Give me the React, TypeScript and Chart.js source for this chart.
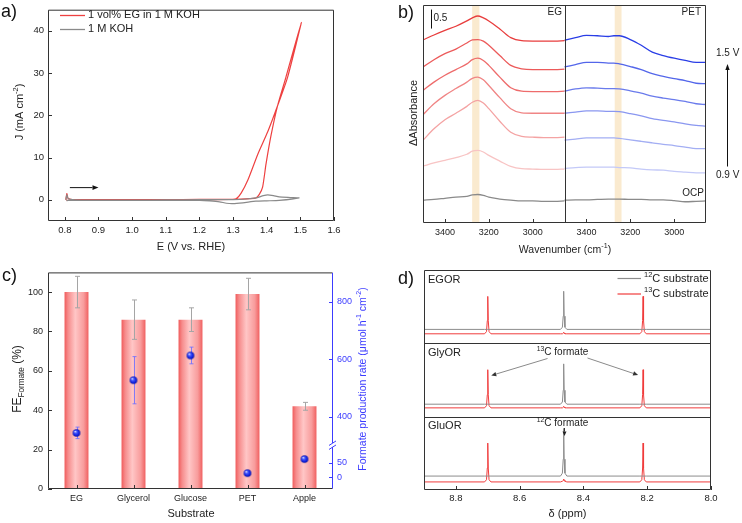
import React, { useEffect, useRef } from "react";
import { Chart, registerables } from "chart.js";

Chart.register(...registerables);

const FONT = "'Liberation Sans', Arial, Helvetica, sans-serif";
const INK = "#222222";
const FRAME = "#333333";
Chart.defaults.font.family = FONT;
Chart.defaults.color = INK;

// ---------------- Panel a : cyclic voltammetry ----------------
const aSeriesNames = ["1 vol% EG in 1 M KOH", "1 M KOH"];
const cvEgPotential = [0.803, 0.806, 0.81, 0.83, 0.9, 1.0, 1.1, 1.2, 1.3, 1.35, 1.368, 1.378, 1.388, 1.398, 1.413, 1.432, 1.457, 1.503, 1.462, 1.432, 1.403, 1.373, 1.344, 1.324, 1.309, 1.29, 1.2, 1.0, 0.9, 0.81, 0.805];
const cvEgCurrent = [0.0, 1.5, 0.35, 0.08, 0.05, 0.05, 0.06, 0.1, 0.15, 0.3, 0.46, 1.3, 3.1, 8.5, 15.3, 22.2, 29.0, 42.0, 29.0, 22.2, 16.1, 10.7, 4.7, 1.6, 0.23, 0.1, 0.05, 0.0, -0.05, -0.1, -0.15];
const cvKohPotential = [0.803, 0.806, 0.81, 0.83, 0.9, 1.0, 1.1, 1.2, 1.3, 1.34, 1.368, 1.39, 1.403, 1.42, 1.437, 1.47, 1.496, 1.437, 1.4, 1.368, 1.329, 1.299, 1.28, 1.26, 1.23, 1.201, 1.1, 1.0, 0.9, 0.81, 0.805];
const cvKohCurrent = [0.0, 1.2, 0.25, 0.0, -0.05, -0.05, 0.0, 0.05, 0.05, 0.2, 0.46, 1.0, 1.2, 1.0, 0.69, 0.55, 0.46, -0.14, -0.22, -0.3, -0.7, -0.9, -0.8, -0.46, -0.25, -0.14, -0.1, -0.1, -0.12, -0.15, -0.2];
const aPotentialTicks = [0.8, 0.9, 1.0, 1.1, 1.2, 1.3, 1.4, 1.5, 1.6];
const aCurrentTicks = [0, 10, 20, 30, 40];

// ---------------- Panel b : in situ IR spectra ----------------
const egWave = [3500, 3450, 3400, 3350, 3300, 3275, 3250, 3225, 3200, 3150, 3100, 3050, 3000, 2950, 2900, 2855];
const egCurve1 = [4.82, 4.95, 5.07, 5.18, 5.32, 5.40, 5.45, 5.40, 5.32, 5.11, 4.88, 4.80, 4.79, 4.79, 4.79, 4.80];
const egCurve2 = [4.11, 4.30, 4.46, 4.58, 4.74, 4.82, 4.83, 4.79, 4.68, 4.41, 4.15, 4.06, 4.04, 4.04, 4.04, 4.05];
const egCurve3 = [3.49, 3.71, 3.89, 4.04, 4.19, 4.30, 4.34, 4.28, 4.15, 3.84, 3.56, 3.47, 3.46, 3.46, 3.46, 3.47];
const egCurve4 = [2.85, 3.14, 3.36, 3.54, 3.71, 3.81, 3.84, 3.77, 3.62, 3.30, 3.01, 2.90, 2.89, 2.89, 2.89, 2.89];
const egCurve5 = [2.18, 2.48, 2.72, 2.89, 3.07, 3.18, 3.23, 3.16, 3.01, 2.68, 2.39, 2.28, 2.26, 2.25, 2.25, 2.26];
const egCurve6 = [1.50, 1.58, 1.65, 1.72, 1.81, 1.89, 1.91, 1.87, 1.78, 1.63, 1.49, 1.43, 1.42, 1.41, 1.41, 1.42];
const egOcp = [0.60, 0.62, 0.65, 0.68, 0.70, 0.74, 0.75, 0.73, 0.68, 0.63, 0.60, 0.58, 0.58, 0.57, 0.57, 0.58];
const petWave = [3500, 3450, 3400, 3350, 3300, 3275, 3250, 3200, 3150, 3100, 3050, 3000, 2950, 2900, 2855];
const petCurve1 = [4.81, 4.88, 4.94, 4.93, 4.91, 4.93, 4.93, 4.83, 4.68, 4.50, 4.41, 4.34, 4.28, 4.23, 4.23];
const petCurve2 = [4.11, 4.17, 4.23, 4.23, 4.21, 4.21, 4.19, 4.12, 4.04, 3.93, 3.86, 3.80, 3.75, 3.68, 3.67];
const petCurve3 = [3.47, 3.53, 3.56, 3.55, 3.54, 3.54, 3.53, 3.48, 3.42, 3.34, 3.29, 3.25, 3.20, 3.14, 3.12];
const petCurve4 = [2.89, 2.92, 2.95, 2.95, 2.94, 2.94, 2.93, 2.88, 2.82, 2.75, 2.70, 2.66, 2.61, 2.57, 2.55];
const petCurve5 = [2.18, 2.21, 2.24, 2.24, 2.24, 2.24, 2.23, 2.19, 2.15, 2.11, 2.07, 2.04, 2.00, 1.96, 1.96];
const petCurve6 = [1.44, 1.46, 1.47, 1.47, 1.47, 1.47, 1.46, 1.45, 1.42, 1.40, 1.39, 1.36, 1.34, 1.32, 1.32];
const petOcp = [0.60, 0.61, 0.61, 0.62, 0.63, 0.63, 0.63, 0.62, 0.62, 0.61, 0.61, 0.59, 0.56, 0.57, 0.58];
const egBand = [3276, 3243];
const petBand = [3271, 3240];
const bWaveStart = 3500;
const bWaveEnd = 2855;
const bTickWaves = [3400, 3200, 3000];
const bPanelNames = ["EG", "PET"];
const bPotentialLabels = ["1.5 V", "0.9 V"];
const bScaleBar = [5.12, 5.62];
const bScaleBarLabel = "0.5";

// ---------------- Panel c : FE and formate rate ----------------
const substrates = ["EG", "Glycerol", "Glucose", "PET", "Apple"];
const feValues = [100, 86, 86, 99, 42];
const feErrors = [8, 10, 6, 8, 2];
const rateValues = [344, 527, 613, 14, 63];
const rateErrors = [20, 82, 29, 3, 3];
const feTicks = [0, 20, 40, 60, 80, 100];
const rateTicks = [0, 50, 400, 600, 800];
const rateBreakLow = 200; // values above are shifted down by the gap
const rateBreakGap = 190;
const rateBreakMark = 112;

// ---------------- Panel d : 1H NMR ----------------
const nmrPanels = ["EGOR", "GlyOR", "GluOR"];
const nmrSeriesNames = ["12C substrate", "13C substrate"];
const nmrPpm = [8.9, 8.71, 8.704, 8.7015, 8.7, 8.6985, 8.696, 8.69, 8.472, 8.466, 8.4635, 8.462, 8.4605, 8.458, 8.452, 8.223, 8.217, 8.2145, 8.213, 8.2115, 8.209, 8.203, 8.0];
const egorC12 = [2.19, 2.19, 2.19, 2.19, 2.19, 2.19, 2.19, 2.19, 2.19, 2.22, 2.37, 2.71, 2.37, 2.22, 2.19, 2.19, 2.19, 2.19, 2.19, 2.19, 2.19, 2.19, 2.19];
const egorC13 = [2.13, 2.13, 2.16, 2.31, 2.64, 2.31, 2.16, 2.13, 2.13, 2.13, 2.14, 2.15, 2.14, 2.13, 2.13, 2.13, 2.16, 2.31, 2.64, 2.31, 2.16, 2.13, 2.13];
const glyorC12 = [1.17, 1.17, 1.17, 1.17, 1.17, 1.17, 1.17, 1.17, 1.17, 1.2, 1.36, 1.72, 1.36, 1.2, 1.17, 1.17, 1.17, 1.17, 1.17, 1.17, 1.17, 1.17, 1.17];
const glyorC13 = [1.12, 1.12, 1.15, 1.3, 1.64, 1.3, 1.15, 1.12, 1.12, 1.12, 1.13, 1.14, 1.13, 1.12, 1.12, 1.12, 1.15, 1.3, 1.64, 1.3, 1.15, 1.12, 1.12];
const gluorC12 = [0.19, 0.19, 0.19, 0.19, 0.19, 0.19, 0.19, 0.19, 0.19, 0.23, 0.42, 0.84, 0.42, 0.23, 0.19, 0.19, 0.19, 0.19, 0.19, 0.19, 0.19, 0.19, 0.19];
const gluorC13 = [0.11, 0.11, 0.14, 0.3, 0.64, 0.3, 0.14, 0.11, 0.11, 0.12, 0.13, 0.15, 0.13, 0.12, 0.11, 0.11, 0.14, 0.3, 0.64, 0.3, 0.14, 0.11, 0.11];
const nmrTicks = [8.8, 8.6, 8.4, 8.2, 8.0];
const nmr13Peaks = [8.7, 8.213];
const nmr12Peak = 8.462;

// ---------------- helpers ----------------
type Seg = { t: string; s?: "sup" | "sub" };
const txt = (t: string): Seg[] => [{ t }];

function richText(ctx: any, segs: Seg[], x: number, y: number, size: number, color: string, align = "center", rot = 0) {
  ctx.save();
  ctx.translate(x, y);
  if (rot) ctx.rotate(rot);
  ctx.textBaseline = "middle";
  ctx.textAlign = "left";
  ctx.fillStyle = color;
  const fontFor = (s?: string) => `${s ? size * 0.68 : size}px ${FONT}`;
  const widths = segs.map((sg) => {
    ctx.font = fontFor(sg.s);
    return ctx.measureText(sg.t).width;
  });
  const total = widths.reduce((p, q) => p + q, 0);
  let cx = align === "center" ? -total / 2 : align === "right" ? -total : 0;
  segs.forEach((sg, i) => {
    ctx.font = fontFor(sg.s);
    const dy = sg.s === "sup" ? -size * 0.33 : sg.s === "sub" ? size * 0.3 : 0;
    ctx.fillText(sg.t, cx, dy);
    cx += widths[i];
  });
  ctx.restore();
}

function seg(ctx: any, x1: number, y1: number, x2: number, y2: number, color: string, w = 1) {
  ctx.save();
  ctx.strokeStyle = color;
  ctx.lineWidth = w;
  ctx.beginPath();
  ctx.moveTo(x1, y1);
  ctx.lineTo(x2, y2);
  ctx.stroke();
  ctx.restore();
}

function arrow(ctx: any, x1: number, y1: number, x2: number, y2: number, lineColor: string, headColor: string, head = 5, half = 2.3) {
  ctx.save();
  const ang = Math.atan2(y2 - y1, x2 - x1);
  const bx = x2 - head * Math.cos(ang);
  const by = y2 - head * Math.sin(ang);
  ctx.strokeStyle = lineColor;
  ctx.lineWidth = 1;
  ctx.beginPath();
  ctx.moveTo(x1, y1);
  ctx.lineTo(bx, by);
  ctx.stroke();
  ctx.fillStyle = headColor;
  ctx.beginPath();
  ctx.moveTo(x2, y2);
  ctx.lineTo(bx + half * Math.sin(ang), by - half * Math.cos(ang));
  ctx.lineTo(bx - half * Math.sin(ang), by + half * Math.cos(ang));
  ctx.closePath();
  ctx.fill();
  ctx.restore();
}

function drawFrame(ctx: any, a: any, color = FRAME, rightColor?: string) {
  const l = a.left + 0.5, r = a.right - 0.5, t = a.top + 0.5, b = a.bottom - 0.5;
  seg(ctx, l, t, r, t, color);
  seg(ctx, l, b, r, b, color);
  seg(ctx, l, t, l, b, color);
  seg(ctx, r, t, r, b, rightColor || color);
}

function innerTicks(ctx: any, scale: any, side: string, a: any, len = 4, color = FRAME) {
  ctx.save();
  ctx.strokeStyle = color;
  ctx.lineWidth = 1;
  ctx.beginPath();
  scale.ticks.forEach((_: any, i: number) => {
    const p = Math.round(scale.getPixelForTick(i)) + 0.5;
    if (side === "bottom") {
      ctx.moveTo(p, a.bottom);
      ctx.lineTo(p, a.bottom - len);
    } else if (side === "left") {
      ctx.moveTo(a.left, p);
      ctx.lineTo(a.left + len, p);
    } else {
      ctx.moveTo(a.right, p);
      ctx.lineTo(a.right - len, p);
    }
  });
  ctx.stroke();
  ctx.restore();
}

const noGrid = { display: false, drawTicks: false };
const common = (padding: any) => ({
  animation: false,
  responsive: false,
  maintainAspectRatio: false,
  events: [],
  layout: { padding, autoPadding: false },
  plugins: { legend: { display: false }, tooltip: { enabled: false }, title: { display: false } },
});
const tickFont = (size: number) => ({ size, family: FONT });

// ---------------- Panel a ----------------
const RED_A = "#ee4040";
const GRAY_A = "#8a8a8a";
function buildA(canvas: HTMLCanvasElement) {
  const deco = {
    id: "decoA",
    afterDraw(chart: any) {
      const ctx = chart.ctx, a = chart.chartArea, xs = chart.scales.x, ys = chart.scales.y;
      drawFrame(ctx, a);
      innerTicks(ctx, xs, "bottom", a);
      innerTicks(ctx, ys, "left", a);
      richText(ctx, txt("a)"), 1, 12, 18, "#111", "left");
      seg(ctx, 60, 15.5, 85, 15.5, RED_A, 1.3);
      richText(ctx, txt(aSeriesNames[0]), 88, 15, 11, INK, "left");
      seg(ctx, 60, 29.5, 85, 29.5, GRAY_A, 1.3);
      richText(ctx, txt(aSeriesNames[1]), 88, 29, 11, INK, "left");
      const ya = ys.getPixelForValue(2.9);
      arrow(ctx, xs.getPixelForValue(0.815), ya, xs.getPixelForValue(0.9), ya, "#111", "#111", 6, 2.3);
      richText(ctx, [{ t: "J (mA cm" }, { t: "-2", s: "sup" }, { t: ")" }], 20, 112, 11, INK, "center", -Math.PI / 2);
      richText(ctx, txt("E (V vs. RHE)"), 191, 247, 11, INK);
    },
  };
  return new Chart(canvas as any, {
    type: "line",
    data: {
      datasets: [
        {
          label: aSeriesNames[1],
          data: cvKohPotential.map((e, i) => ({ x: e, y: cvKohCurrent[i] })),
          borderColor: GRAY_A,
          borderWidth: 1.2,
          pointRadius: 0,
          tension: 0.2,
        },
        {
          label: aSeriesNames[0],
          data: cvEgPotential.map((e, i) => ({ x: e, y: cvEgCurrent[i] })),
          borderColor: RED_A,
          borderWidth: 1.2,
          pointRadius: 0,
          tension: 0.2,
        },
      ],
    },
    options: {
      ...common({ left: 8, right: 37, top: 2, bottom: 1 }),
      scales: {
        x: {
          type: "linear", min: 0.75, max: 1.6, grid: noGrid, border: { display: false },
          ticks: { font: tickFont(9.5), color: INK, padding: 4, maxRotation: 0, autoSkip: false, callback: (v: any) => Number(v).toFixed(1) },
          afterBuildTicks: (s: any) => { s.ticks = aPotentialTicks.map((v) => ({ value: v })); },
          afterFit: (s: any) => { s.height = 40; },
        },
        y: {
          type: "linear", min: -5, max: 45, grid: noGrid, border: { display: false },
          ticks: { font: tickFont(9.5), color: INK, padding: 4, autoSkip: false, callback: (v: any) => String(v) },
          afterBuildTicks: (s: any) => { s.ticks = aCurrentTicks.map((v) => ({ value: v })); },
          afterFit: (s: any) => { s.width = 40; },
        },
      },
    } as any,
    plugins: [deco],
  });
}

// ---------------- Panel b ----------------
const bHalf = bWaveStart - bWaveEnd;
const egX = (w: number) => bWaveStart - w;
const petX = (w: number) => bHalf + bWaveStart - w;
const egColors = ["#e83c3c", "#ec5a5a", "#ee6c6c", "#f08585", "#f4a3a3", "#f8c4c4"];
const petColors = ["#2a3ee6", "#5366ea", "#6a7bec", "#8a97f0", "#a3aef3", "#c3c9f8"];
const ocpColor = "#8a8a8a";
function buildB(canvas: HTMLCanvasElement) {
  const egCurves = [egCurve1, egCurve2, egCurve3, egCurve4, egCurve5, egCurve6];
  const petCurves = [petCurve1, petCurve2, petCurve3, petCurve4, petCurve5, petCurve6];
  const mk = (label: string, xs: number[], ys: number[], map: (w: number) => number, color: string) => ({
    label,
    data: xs.map((w, i) => ({ x: map(w), y: ys[i] })),
    borderColor: color,
    borderWidth: 1.3,
    pointRadius: 0,
    cubicInterpolationMode: "monotone",
  });
  const datasets: any[] = [];
  egCurves.forEach((c, i) => datasets.push(mk("EG " + (i + 1), egWave, c, egX, egColors[i])));
  datasets.push(mk("EG OCP", egWave, egOcp, egX, ocpColor));
  petCurves.forEach((c, i) => datasets.push(mk("PET " + (i + 1), petWave, c, petX, petColors[i])));
  datasets.push(mk("PET OCP", petWave, petOcp, petX, ocpColor));
  const deco = {
    id: "decoB",
    beforeDatasetsDraw(chart: any) {
      const ctx = chart.ctx, a = chart.chartArea, xs = chart.scales.x;
      ctx.save();
      ctx.fillStyle = "rgba(246, 214, 160, 0.5)";
      const x1 = xs.getPixelForValue(egX(egBand[0])), x2 = xs.getPixelForValue(egX(egBand[1]));
      ctx.fillRect(x1, a.top, x2 - x1, a.bottom - a.top);
      const x3 = xs.getPixelForValue(petX(petBand[0])), x4 = xs.getPixelForValue(petX(petBand[1]));
      ctx.fillRect(x3, a.top, x4 - x3, a.bottom - a.top);
      ctx.restore();
    },
    afterDraw(chart: any) {
      const ctx = chart.ctx, a = chart.chartArea, xs = chart.scales.x, ys = chart.scales.y;
      drawFrame(ctx, a);
      const xd = Math.round(xs.getPixelForValue(bHalf)) + 0.5;
      seg(ctx, xd, a.top, xd, a.bottom, FRAME);
      innerTicks(ctx, xs, "bottom", a);
      richText(ctx, txt("b)"), 27, 13, 18, "#111", "left");
      const sx = a.left + 8.5;
      seg(ctx, sx, ys.getPixelForValue(bScaleBar[1]), sx, ys.getPixelForValue(bScaleBar[0]), "#111", 1);
      richText(ctx, txt(bScaleBarLabel), sx + 2, 18.5, 10, INK, "left");
      richText(ctx, txt(bPanelNames[0]), xd - 3.5, 12.5, 10, INK, "right");
      richText(ctx, txt(bPanelNames[1]), a.right - 5, 12.5, 10, INK, "right");
      richText(ctx, txt("OCP"), a.right - 2, 193, 10, INK, "right");
      richText(ctx, txt(bPotentialLabels[0]), 345, 53.5, 10, INK, "left");
      richText(ctx, txt(bPotentialLabels[1]), 345, 175, 10, INK, "left");
      arrow(ctx, 356.5, 166.5, 356.5, 64, "#111", "#111", 6, 2.2);
      richText(ctx, txt("\u0394Absorbance"), 43, 113, 11, INK, "center", -Math.PI / 2);
      richText(ctx, [{ t: "Wavenumber (cm" }, { t: "-1", s: "sup" }, { t: ")" }], 194, 250, 10.5, INK);
    },
  };
  return new Chart(canvas as any, {
    type: "line",
    data: { datasets },
    options: {
      ...common({ left: 52, right: 36, top: 5, bottom: 0 }),
      scales: {
        x: {
          type: "linear", min: 0, max: 2 * bHalf, grid: noGrid, border: { display: false },
          ticks: {
            font: tickFont(9), color: INK, padding: 4, maxRotation: 0, autoSkip: false,
            callback: (v: any) => { const n = Number(v); return String(bWaveStart - (n >= bHalf ? n - bHalf : n)); },
          },
          afterBuildTicks: (s: any) => {
            s.ticks = [...bTickWaves.map((w) => ({ value: egX(w) })), ...bTickWaves.map((w) => ({ value: petX(w) }))];
          },
          afterFit: (s: any) => { s.height = 39; },
        },
        y: { type: "linear", min: 0, max: 5.74, display: false },
      },
    } as any,
    plugins: [deco],
  });
}

// ---------------- Panel c ----------------
const rateToAxis = (v: number) => (v > rateBreakLow ? v - rateBreakGap : v);
const BAR_FRAC = 0.42;
const BLUE = "#3c3cff";
function makeSphere(r: number) {
  const c = document.createElement("canvas");
  const s = Math.ceil(r * 2) + 2;
  c.width = s;
  c.height = s;
  const g = c.getContext("2d") as CanvasRenderingContext2D;
  const cx = s / 2, cy = s / 2;
  const grad = g.createRadialGradient(cx - r * 0.35, cy - r * 0.4, r * 0.05, cx, cy, r);
  grad.addColorStop(0, "#eef0ff");
  grad.addColorStop(0.3, "#4a5cff");
  grad.addColorStop(0.75, "#1020e0");
  grad.addColorStop(1, "#06109a");
  g.fillStyle = grad;
  g.beginPath();
  g.arc(cx, cy, r, 0, Math.PI * 2);
  g.fill();
  return c;
}
function buildC(canvas: HTMLCanvasElement) {
  const sphere = makeSphere(3.8);
  const deco = {
    id: "decoC",
    afterDatasetDraw(chart: any, args: any) {
      if (args.meta.type !== "bar") return;
      const ctx = chart.ctx, xs = chart.scales.x, ys = chart.scales.y, y2 = chart.scales.y2;
      feValues.forEach((v, i) => {
        const x = Math.round(xs.getPixelForValue(i)) + 0.5;
        const t = ys.getPixelForValue(v + feErrors[i]), b = ys.getPixelForValue(v - feErrors[i]);
        seg(ctx, x, t, x, b, "#a5a5a5");
        seg(ctx, x - 2.5, t, x + 2.5, t, "#a5a5a5");
        seg(ctx, x - 2.5, b, x + 2.5, b, "#a5a5a5");
      });
      rateValues.forEach((v, i) => {
        const x = Math.round(xs.getPixelForValue(i)) + 0.5;
        const t = y2.getPixelForValue(rateToAxis(v + rateErrors[i])), b = y2.getPixelForValue(rateToAxis(v - rateErrors[i]));
        seg(ctx, x, t, x, b, "rgba(110,110,255,0.85)");
        seg(ctx, x - 2, t, x + 2, t, "rgba(110,110,255,0.85)");
        seg(ctx, x - 2, b, x + 2, b, "rgba(110,110,255,0.85)");
      });
    },
    afterDraw(chart: any) {
      const ctx = chart.ctx, a = chart.chartArea, xs = chart.scales.x, ys = chart.scales.y, y2 = chart.scales.y2;
      drawFrame(ctx, a, FRAME, BLUE);
      innerTicks(ctx, xs, "bottom", a);
      innerTicks(ctx, ys, "left", a);
      innerTicks(ctx, y2, "right", a, 4, BLUE);
      // axis break
      const yb = y2.getPixelForValue(rateBreakMark);
      const xr = a.right - 0.5;
      ctx.save();
      ctx.fillStyle = "#ffffff";
      ctx.fillRect(xr - 1, yb - 2, 3, 4);
      ctx.restore();
      seg(ctx, xr - 3.5, yb + 0.5, xr + 3.5, yb - 4, BLUE);
      seg(ctx, xr - 3.5, yb + 4.5, xr + 3.5, yb, BLUE);
      richText(ctx, txt("c)"), 2, 14, 18, "#111", "left");
      richText(ctx, [{ t: "FE" }, { t: "Formate", s: "sub" }, { t: " (%)" }], 18, 117, 12, INK, "center", -Math.PI / 2);
      richText(
        ctx,
        [{ t: "Formate production rate (\u03bcmol h" }, { t: "-1", s: "sup" }, { t: " cm" }, { t: "-2", s: "sup" }, { t: ")" }],
        363, 117, 10.5, BLUE, "center", -Math.PI / 2
      );
      richText(ctx, txt("Substrate"), 191, 252, 11, INK);
    },
  };
  return new Chart(canvas as any, {
    type: "bar",
    data: {
      labels: substrates,
      datasets: [
        {
          type: "bar",
          label: "FE",
          data: feValues,
          yAxisID: "y",
          order: 1,
          categoryPercentage: 1,
          barPercentage: BAR_FRAC,
          borderWidth: 0,
          backgroundColor: (c: any) => {
            const chart = c.chart;
            const area = chart.chartArea;
            if (!area || c.type !== "data" || !chart.scales.x) return "#f7a0a0";
            const x = chart.scales.x.getPixelForValue(c.dataIndex);
            const w = ((area.right - area.left) / substrates.length) * BAR_FRAC;
            const g = chart.ctx.createLinearGradient(x - w / 2, 0, x + w / 2, 0);
            g.addColorStop(0, "#f05c5c");
            g.addColorStop(0.15, "#f68c8c");
            g.addColorStop(0.45, "#ffc6c6");
            g.addColorStop(0.8, "#f89c9c");
            g.addColorStop(1, "#f06060");
            return g;
          },
        },
        {
          type: "line",
          label: "Rate",
          data: rateValues.map(rateToAxis),
          yAxisID: "y2",
          order: 0,
          showLine: false,
          pointStyle: sphere,
          pointRadius: 4,
        },
      ],
    },
    options: {
      ...common({ left: 8, right: 0, top: 7, bottom: 0 }),
      scales: {
        x: {
          type: "category", offset: true, grid: { ...noGrid, offset: true }, border: { display: false },
          ticks: { font: tickFont(9), color: INK, padding: 4, maxRotation: 0, autoSkip: false },
          afterFit: (s: any) => { s.height = 34; },
        },
        y: {
          type: "linear", position: "left", min: 0, max: 110, grid: noGrid, border: { display: false },
          ticks: { font: tickFont(9), color: INK, padding: 5, autoSkip: false, callback: (v: any) => String(v) },
          afterBuildTicks: (s: any) => { s.ticks = feTicks.map((v) => ({ value: v })); },
          afterFit: (s: any) => { s.width = 40; },
        },
        y2: {
          type: "linear", position: "right", min: -41, max: 711.6, grid: noGrid, border: { display: false },
          ticks: { font: tickFont(9), color: BLUE, padding: 4, autoSkip: false, callback: (_v: any, i: number) => String(rateTicks[i]) },
          afterBuildTicks: (s: any) => { s.ticks = rateTicks.map((v) => ({ value: rateToAxis(v) })); },
          afterFit: (s: any) => { s.width = 38; },
        },
      },
    } as any,
    plugins: [deco],
  });
}

// ---------------- Panel d ----------------
const GRAY_D = "#8c8c8c";
const RED_D = "#f03c3c";
function buildD(canvas: HTMLCanvasElement) {
  const spectra = [
    { label: "EGOR " + nmrSeriesNames[0], y: egorC12, c: GRAY_D },
    { label: "EGOR " + nmrSeriesNames[1], y: egorC13, c: RED_D },
    { label: "GlyOR " + nmrSeriesNames[0], y: glyorC12, c: GRAY_D },
    { label: "GlyOR " + nmrSeriesNames[1], y: glyorC13, c: RED_D },
    { label: "GluOR " + nmrSeriesNames[0], y: gluorC12, c: GRAY_D },
    { label: "GluOR " + nmrSeriesNames[1], y: gluorC13, c: RED_D },
  ];
  const deco = {
    id: "decoD",
    afterDraw(chart: any) {
      const ctx = chart.ctx, a = chart.chartArea, xs = chart.scales.x, ys = chart.scales.y;
      [1, 2].forEach((v) => {
        const y = Math.round(ys.getPixelForValue(v)) + 0.5;
        seg(ctx, a.left, y, a.right, y, FRAME);
      });
      drawFrame(ctx, a);
      innerTicks(ctx, xs, "bottom", a);
      richText(ctx, txt("d)"), 27, 17, 18, "#111", "left");
      nmrPanels.forEach((name, i) => {
        const top = ys.getPixelForValue(3 - i);
        richText(ctx, txt(name), a.left + 4, top + 9.5, 11, INK, "left");
      });
      seg(ctx, 246.5, 16.5, 270, 16.5, GRAY_D, 1.2);
      richText(ctx, [{ t: "12", s: "sup" }, { t: "C substrate" }], 273, 16.5, 11, INK, "left");
      seg(ctx, 246.5, 32, 270, 32, RED_D, 1.2);
      richText(ctx, [{ t: "13", s: "sup" }, { t: "C substrate" }], 273, 32, 11, INK, "left");
      // 13C formate annotation
      richText(ctx, [{ t: "13", s: "sup" }, { t: "C formate" }], 191.5, 90, 10, INK);
      arrow(ctx, 176.5, 96.5, xs.getPixelForValue(nmr13Peaks[0]) + 3.5, 113.5, "#8a8a8a", "#333", 5, 2.2);
      arrow(ctx, 216.5, 96, xs.getPixelForValue(nmr13Peaks[1]) - 5, 113, "#8a8a8a", "#333", 5, 2.2);
      // 12C formate annotation
      const x12 = Math.round(xs.getPixelForValue(nmr12Peak)) + 0.5;
      richText(ctx, [{ t: "12", s: "sup" }, { t: "C formate" }], 191.5, 161.5, 10, INK);
      arrow(ctx, x12, 166, x12, 174, "#333", "#222", 4.5, 2);
      richText(ctx, txt("\u03b4 (ppm)"), 196.5, 252, 11, INK);
    },
  };
  return new Chart(canvas as any, {
    type: "line",
    data: {
      datasets: spectra.map((s) => ({
        label: s.label,
        data: nmrPpm.map((p, i) => ({ x: p, y: s.y[i] })),
        borderColor: s.c,
        borderWidth: 1,
        pointRadius: 0,
        tension: 0,
      })),
    },
    options: {
      ...common({ left: 53, right: 31, top: 8, bottom: 0 }),
      scales: {
        x: {
          type: "linear", min: 8.0, max: 8.9, reverse: true, grid: noGrid, border: { display: false },
          ticks: { font: tickFont(9.5), color: INK, padding: 3, maxRotation: 0, autoSkip: false, callback: (v: any) => Number(v).toFixed(1) },
          afterBuildTicks: (s: any) => { s.ticks = nmrTicks.map((v) => ({ value: v })); },
          afterFit: (s: any) => { s.height = 33; },
        },
        y: { type: "linear", min: 0, max: 3, display: false },
      },
    } as any,
    plugins: [deco],
  });
}

export default function App() {
  const refA = useRef<HTMLCanvasElement>(null);
  const refB = useRef<HTMLCanvasElement>(null);
  const refC = useRef<HTMLCanvasElement>(null);
  const refD = useRef<HTMLCanvasElement>(null);
  useEffect(() => {
    const charts = [
      buildA(refA.current as HTMLCanvasElement),
      buildB(refB.current as HTMLCanvasElement),
      buildC(refC.current as HTMLCanvasElement),
      buildD(refD.current as HTMLCanvasElement),
    ];
    return () => charts.forEach((c) => c.destroy());
  }, []);
  const cs = (left: number, top: number, w: number, h: number): any => ({ position: "absolute", left, top, width: w, height: h });
  return (
    <div style={{ position: "absolute", left: 0, top: 0, width: 742, height: 523, background: "#ffffff", overflow: "hidden" }}>
      <canvas ref={refA} width={371} height={262} style={cs(0, 0, 371, 262)} />
      <canvas ref={refB} width={371} height={262} style={cs(371, 0, 371, 262)} />
      <canvas ref={refC} width={371} height={261} style={cs(0, 262, 371, 261)} />
      <canvas ref={refD} width={371} height={261} style={cs(371, 262, 371, 261)} />
    </div>
  );
}
